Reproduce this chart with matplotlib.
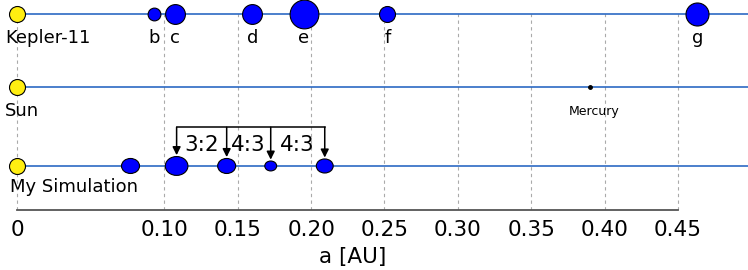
import numpy as np
import matplotlib.pyplot as plt
from matplotlib.path import Path
from matplotlib.transforms import Affine2D, blended_transform_factory

# Kepler-11 system (semi-major axis in AU, planet radius in Earth radii)
kepler_names = ["b", "c", "d", "e", "f", "g"]
kepler_a = [0.093, 0.107, 0.160, 0.195, 0.252, 0.463]
kepler_r = [2.0, 3.1, 3.1, 4.5, 2.5, 3.6]

# Solar system (inner part)
sun_names = ["Mercury"]
sun_a = [0.390]

# simulated system
sim_a = [0.077, 0.1084, 0.1425, 0.1725, 0.2093]
sim_r = [2.35, 2.95, 2.35, 1.55, 2.2]

# resonances between neighbouring simulated planets (from planet 2 on)
res_labels = ["3:2", "4:3", "4:3"]

row_names = ["Kepler-11", "Sun", "My Simulation"]
row_y = [1.92, 1.0, 0.0]

ticks = [0, 0.10, 0.15, 0.20, 0.25, 0.30, 0.35, 0.40, 0.45]
tick_labels = ["0", "0.10", "0.15", "0.20", "0.25", "0.30", "0.35", "0.40", "0.45"]

line_col = "#1a5cbf"
planet_col = "#0000ff"
star_col = "#ffee11"
pt_per_r = 4.6  # marker diameter (pt) per Earth radius

fig = plt.figure(figsize=(7.48, 2.70), dpi=100)
ax = fig.add_axes([0, 60 / 270, 1, 210 / 270])
ax.set_xlim(-0.0119, 0.4976)
ax.set_ylim(-0.557, 2.10)

# dashed guide lines
ax.vlines(ticks, -0.557, row_y[0], colors="#aaaaaa", linestyles=(0, (3, 3)), lw=0.8, zorder=0)

# rows
for y in row_y:
    ax.plot([0, 0.4976], [y, y], color=line_col, lw=1.1, zorder=1)
    ax.plot(0, y, "o", ms=11.5, mfc=star_col, mec="k", mew=0.8, zorder=3)

label_off = [(-9, -17), (-9, -17), (-5.5, -15)]
for name, y, off in zip(row_names, row_y, label_off):
    ax.annotate(name, (0, y), xytext=off, textcoords="offset points",
                ha="left", va="center", fontsize=13)

# Kepler-11 planets
for name, a, r in zip(kepler_names, kepler_a, kepler_r):
    ax.plot(a, row_y[0], "o", ms=pt_per_r * r, mfc=planet_col, mec="k", mew=0.8, zorder=3)
    ax.annotate(name, (a, row_y[0]), xytext=(0, -17), textcoords="offset points",
                ha="center", va="center", fontsize=13)

# Mercury
for name, a in zip(sun_names, sun_a):
    ax.plot(a, row_y[1], "o", ms=2.5, color="k", zorder=3)
    ax.annotate(name, (a, row_y[1]), xytext=(3, -18), textcoords="offset points",
                ha="center", va="center", fontsize=9)

# simulated planets (slightly elliptical markers)
aspect = 1.2
ellipse = Path.unit_circle().transformed(Affine2D().scale(aspect, 1.0))
sizes = [(pt_per_r * r * aspect) ** 2 for r in sim_r]
ax.scatter(sim_a, [row_y[2]] * len(sim_a), s=sizes, marker=ellipse,
           c=planet_col, edgecolors="k", linewidths=0.8, zorder=3)

# resonance brackets
top = 0.49
ax.plot([sim_a[1], sim_a[-1]], [top, top], color="k", lw=1.1, zorder=2)
for a, r in zip(sim_a[1:], sim_r[1:]):
    ax.annotate("", xy=(a, row_y[2]), xytext=(a, top),
                arrowprops=dict(arrowstyle="-|>", color="k", lw=1.1,
                                shrinkA=0, shrinkB=pt_per_r * r / 2 + 1.0,
                                mutation_scale=12))
for i, lab in enumerate(res_labels):
    xm = (sim_a[i + 1] + sim_a[i + 2]) / 2
    ax.text(xm, 0.27, lab, ha="center", va="center", fontsize=15.5)

# axis
for s in ["top", "left", "right"]:
    ax.spines[s].set_visible(False)
ax.spines["bottom"].set_bounds(0, 0.45)
ax.spines["bottom"].set_color("#555555")
ax.spines["bottom"].set_linewidth(1.3)
ax.set_yticks([])
ax.set_xticks(ticks)
ax.set_xticklabels(tick_labels, fontsize=15.5)
ax.tick_params(axis="x", length=0, pad=7)
trans = blended_transform_factory(ax.transData, ax.transAxes)
ax.text(0.2286, -0.224, "a [AU]", transform=trans, ha="center", va="center", fontsize=15.5)

fig.savefig("out.png", dpi=100)
